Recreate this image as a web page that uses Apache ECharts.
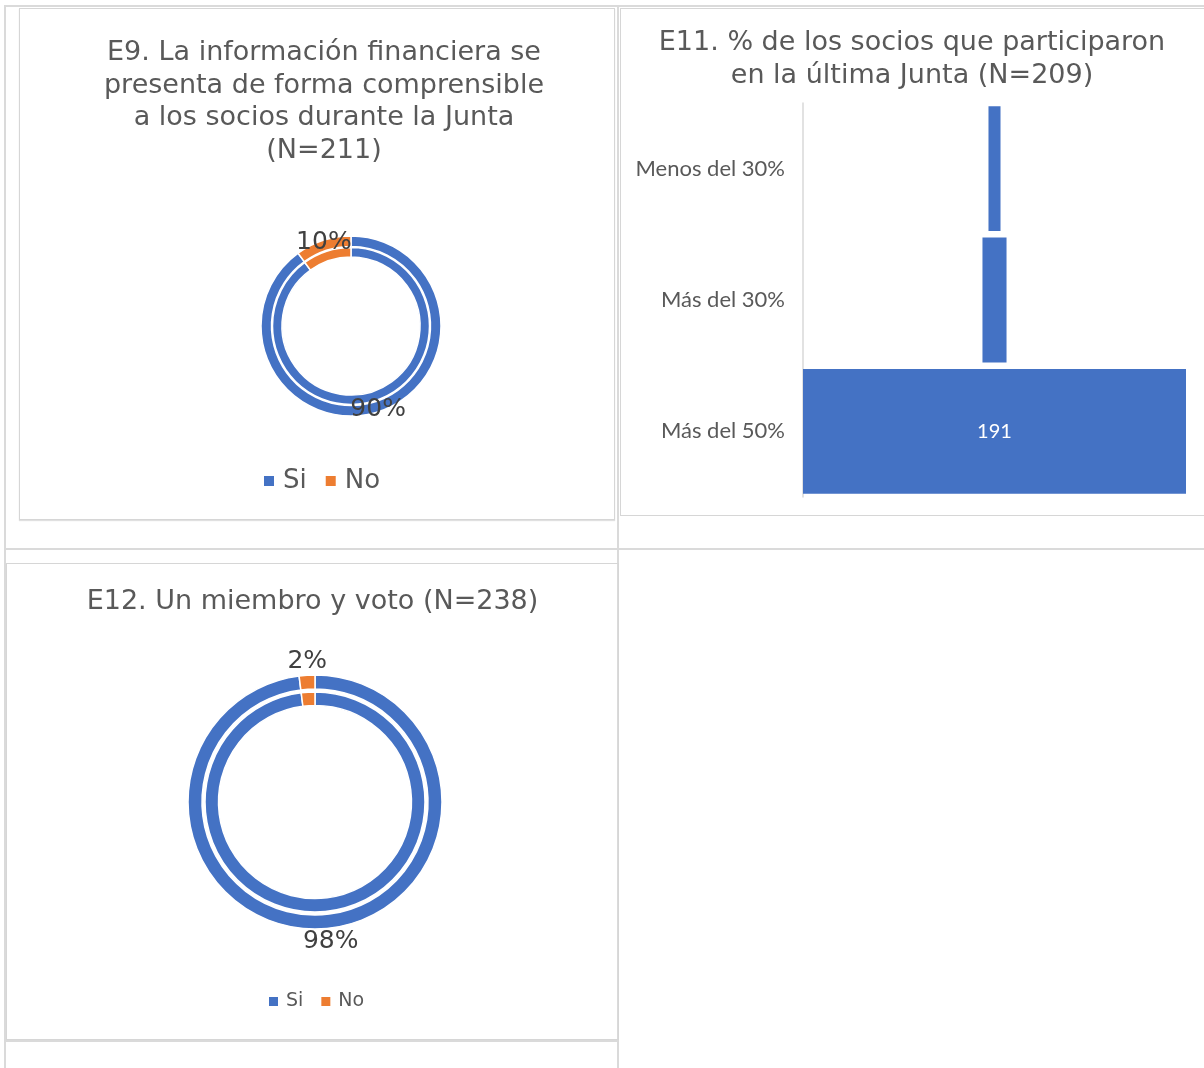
<!DOCTYPE html>
<html>
<head>
<meta charset="utf-8">
<script src="https://cdn.jsdelivr.net/npm/echarts@6/dist/echarts.min.js"></script>
<style>
body { margin: 0; background: #fff; width: 1204px; height: 1068px; position: relative; overflow: hidden; }
.line { position: absolute; background: #dadada; }
.box { position: absolute; border: 1px solid #d6d6d6; box-sizing: border-box; }
#e9 { left: 19px; top: 8px; width: 596px; height: 512px; box-shadow: 0 1px 1px #e0e0e0; }
#e11 { left: 620px; top: 8px; width: 590px; height: 508px; }
#e12 { left: 6px; top: 563px; width: 613px; height: 477px; }
</style>
</head>
<body>
<div class="line" style="left:4px;top:5px;width:1200px;height:2px"></div>
<div class="line" style="left:4px;top:5px;width:2px;height:1063px"></div>
<div class="line" style="left:617px;top:5px;width:2px;height:1063px"></div>
<div class="line" style="left:4px;top:548px;width:1200px;height:2px"></div>
<div class="line" style="left:4px;top:1040px;width:615px;height:2px"></div>
<div class="box" id="e9"></div>
<div class="box" id="e11"></div>
<div class="box" id="e12"></div>
<script>
// datos
const e9Labels = ['Si', 'No']
const e9Values = [90, 10]
const e11Categories = ['Menos del 30%', 'Más del 30%', 'Más del 50%']
const e11Values = [6, 12, 191]
const e12Labels = ['Si', 'No']
const e12Values = [98, 2]

const colors = ['#4472C4', '#ED7D31']
const titleStyle = { fontFamily: 'DejaVu Sans', fontSize: 27, fontWeight: 'normal', color: '#595959', lineHeight: 32.5 }

function pieData (labels, values) {
  return labels.map((name, i) => ({ name: name, value: values[i] }))
}

// E9
let e9Chart = echarts.init(document.getElementById('e9'))
e9Chart.setOption({
  animation: false,
  color: colors,
  title: {
    text: 'E9. La información financiera se\npresenta de forma comprensible\na los socios durante la Junta\n(N=211)',
    left: 304,
    textAlign: 'center',
    top: 28,
    padding: 0,
    textStyle: titleStyle
  },
  legend: {
    data: e9Labels,
    top: 459,
    left: 244,
    padding: 0,
    icon: 'rect',
    itemWidth: 10,
    itemHeight: 10,
    itemGap: 19,
    itemStyle: { borderWidth: 0 },
    textStyle: { fontFamily: 'DejaVu Sans', fontSize: 26, color: '#595959', padding: [0, 0, 0, 4] }
  },
  series: [{
    type: 'pie',
    radius: [79.5, 90],
    center: [331, 317],
    startAngle: 90,
    itemStyle: { borderColor: '#fff', borderWidth: 1.5 },
    label: {
      show: true,
      position: 'inside',
      formatter: p => p.value + '%',
      fontFamily: 'DejaVu Sans',
      fontSize: 25,
      color: '#404040'
    },
    data: pieData(e9Labels, e9Values)
  }, {
    type: 'pie',
    radius: [69, 78.5],
    center: [331, 317],
    startAngle: 90,
    itemStyle: { borderColor: '#fff', borderWidth: 1.5 },
    label: { show: false },
    data: pieData(e9Labels, e9Values)
  }]
})

// E11
const e11Max = Math.max(...e11Values)
const e11Offsets = e11Values.map(v => (e11Max - v) / 2)
let e11Chart = echarts.init(document.getElementById('e11'))
e11Chart.setOption({
  animation: false,
  title: {
    text: 'E11. % de los socios que participaron\nen la última Junta (N=209)',
    left: 291,
    textAlign: 'center',
    top: 18,
    padding: 0,
    textStyle: titleStyle
  },
  grid: { left: 182, right: 23, top: 94, bottom: 18 },
  xAxis: { type: 'value', min: 0, max: e11Max, show: false },
  yAxis: {
    type: 'category',
    data: e11Categories,
    inverse: true,
    axisLine: { lineStyle: { color: '#d9d9d9', width: 1.5 } },
    axisTick: { show: false },
    axisLabel: { margin: 18, fontFamily: 'Lato', fontSize: 22, color: '#595959' }
  },
  series: [{
    type: 'bar',
    stack: 'embudo',
    data: e11Offsets,
    itemStyle: { color: 'transparent' },
    silent: true
  }, {
    type: 'bar',
    stack: 'embudo',
    data: e11Values,
    barCategoryGap: '5%',
    itemStyle: { color: '#4472C4' },
    label: {
      show: true,
      color: '#fff',
      fontFamily: 'Lato',
      fontSize: 20,
      formatter: p => (p.value > 50 ? p.value : '')
    }
  }]
})

// E12
let e12Chart = echarts.init(document.getElementById('e12'))
e12Chart.setOption({
  animation: false,
  color: colors,
  title: {
    text: 'E12. Un miembro y voto (N=238)',
    left: 'center',
    top: 22,
    padding: 0,
    textStyle: titleStyle
  },
  legend: {
    data: e12Labels,
    top: 428,
    left: 262,
    padding: 0,
    icon: 'rect',
    itemWidth: 9,
    itemHeight: 9,
    itemGap: 18,
    itemStyle: { borderWidth: 0 },
    textStyle: { fontFamily: 'DejaVu Sans', fontSize: 19, color: '#595959', padding: [0, 0, 0, 3] }
  },
  series: [{
    type: 'pie',
    radius: [113, 127],
    center: [308, 238],
    startAngle: 90,
    itemStyle: { borderColor: '#fff', borderWidth: 1.5 },
    label: {
      show: true,
      position: 'inside',
      formatter: p => p.value + '%',
      fontFamily: 'DejaVu Sans',
      fontSize: 25,
      color: '#404040'
    },
    labelLayout: p => (p.dataIndex === 0 ? { dx: 8, dy: 17 } : { dy: -18 }),
    data: pieData(e12Labels, e12Values)
  }, {
    type: 'pie',
    radius: [96.5, 110],
    center: [308, 238],
    startAngle: 90,
    itemStyle: { borderColor: '#fff', borderWidth: 1.5 },
    label: { show: false },
    data: pieData(e12Labels, e12Values)
  }]
})
</script>
</body>
</html>
